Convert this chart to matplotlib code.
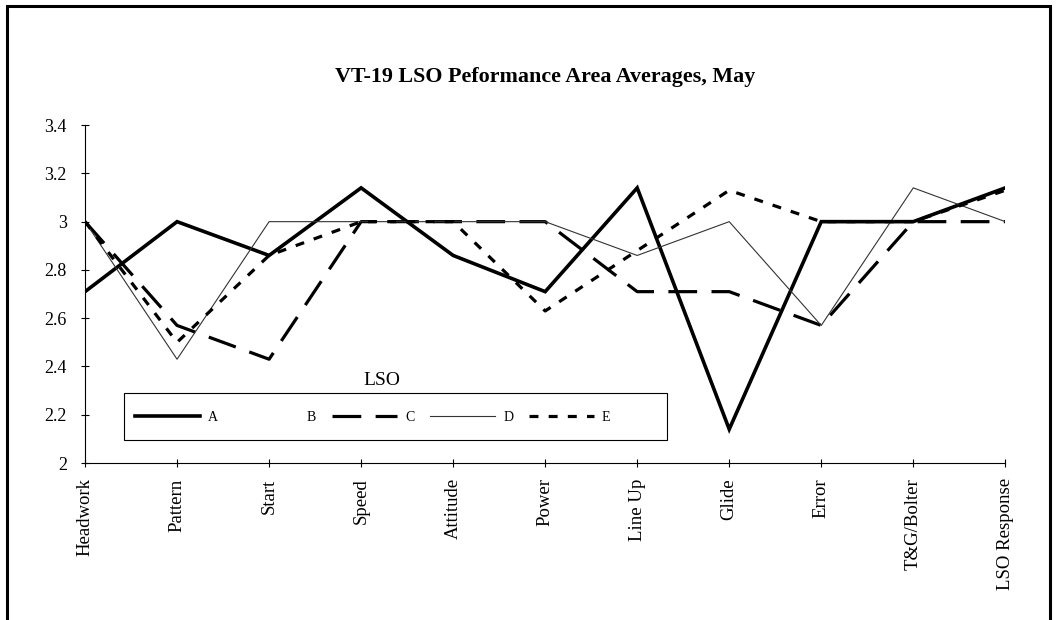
import numpy as np
import matplotlib.pyplot as plt
from matplotlib.patches import Rectangle

plt.rcParams['font.family'] = ['Liberation Serif', 'DejaVu Serif']

categories = ['Headwork', 'Pattern', 'Start', 'Speed', 'Attitude', 'Power',
              'Line Up', 'Glide', 'Error', 'T&G/Bolter', 'LSO Response']

lso_a = [2.71, 3.00, 2.86, 3.14, 2.86, 2.71, 3.14, 2.14, 3.00, 3.00, 3.14]
lso_b = [np.nan] * 11  # not visible on the chart
lso_c = [3.00, 2.57, 2.43, 3.00, 3.00, 3.00, 2.71, 2.71, 2.57, 3.00, 3.00]
lso_d = [3.00, 2.43, 3.00, 3.00, 3.00, 3.00, 2.86, 3.00, 2.57, 3.14, 3.00]
lso_e = [3.00, 2.50, 2.86, 3.00, 3.00, 2.63, 2.88, 3.13, 3.00, 3.00, 3.13]

fig = plt.figure(figsize=(10.59, 6.20), dpi=100)
ax = fig.add_axes([0.0803, 0.2532, 0.869, 0.545])

x = np.arange(len(categories))
ax.plot(x, lso_a, color='black', lw=2.6, label='A', solid_joinstyle='miter')
ax.plot(x, lso_b, color='white', lw=0, label='B')
ax.plot(x, lso_c, color='black', lw=2.3, dashes=(9, 4.5), label='C')
ax.plot(x, lso_d, color='#333333', lw=0.8, label='D')
ax.plot(x, lso_e, color='black', lw=2.3, dashes=(2.8, 3.2), label='E')

ax.set_xlim(0, len(categories) - 1)
ax.set_ylim(2, 3.4)
ax.set_yticks([2, 2.2, 2.4, 2.6, 2.8, 3, 3.2, 3.4])
ax.set_yticklabels(['2', '2.2', '2.4', '2.6', '2.8', '3', '3.2', '3.4'], fontsize=13)
ax.set_xticks(x)
ax.set_xticklabels(categories, rotation=90, fontsize=13.5)
ax.tick_params(direction='inout', length=6, width=0.8)
ax.tick_params(axis='y', pad=10)
ax.tick_params(axis='x', pad=8)

for side in ['top', 'right']:
    ax.spines[side].set_visible(False)
for side in ['left', 'bottom']:
    ax.spines[side].set_linewidth(0.8)
    ax.spines[side].set_zorder(0)

# legend box drawn separately, entries placed inside it
ax.add_patch(Rectangle((0.0424, 0.068), 0.590, 0.139, transform=ax.transAxes,
                       fill=False, edgecolor='black', lw=0.8, zorder=3))
leg = ax.legend(loc='center left', bbox_to_anchor=(0.0543, 0.136),
                ncol=5, fontsize=10, frameon=False,
                handlelength=4.7, handletextpad=0.55, columnspacing=1.15,
                borderpad=0, borderaxespad=0)
ax.text(0.322, 0.245, 'LSO', transform=ax.transAxes, ha='center', va='center',
        fontsize=14)

fig.text(0.515, 0.876, 'VT-19 LSO Peformance Area Averages, May',
         ha='center', va='center', fontsize=15.8, fontweight='bold')

# outer frame around the chart
fig.patches.append(Rectangle((7 / 1059, -0.05), 1043 / 1059, 1.05 - 6 / 620,
                             transform=fig.transFigure, fill=False,
                             edgecolor='black', lw=2.2))

fig.savefig('out.png', dpi=100)
